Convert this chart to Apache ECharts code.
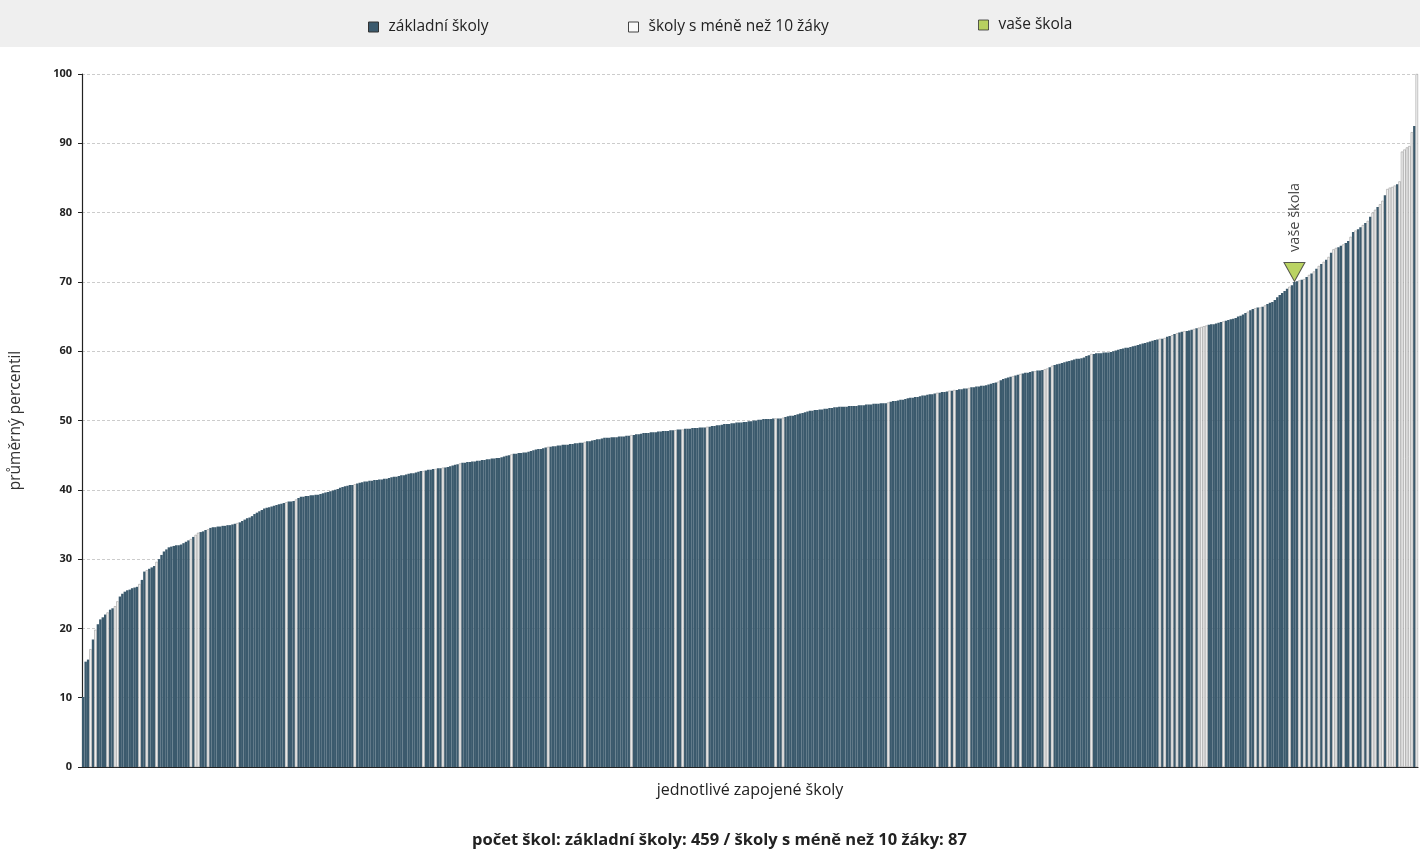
<!DOCTYPE html>
<html>
<head>
<meta charset="utf-8">
<script src="https://cdn.jsdelivr.net/npm/echarts@6/dist/echarts.min.js"></script>
<style>
html,body{margin:0;padding:0;background:#fff;}
#chart{width:1420px;height:852px;}
</style>
</head>
<body>
<div id="chart"></div>
<script>
// average percentile of each school, sorted ascending (546 schools)
const values = [
10.1,15.2,15.5,17.0,18.4,19.8,20.6,21.3,21.6,22.0,
22.3,22.7,22.9,23.2,23.9,24.6,25.0,25.3,25.5,25.6,
25.8,25.9,26.0,26.4,27.0,28.2,28.4,28.6,28.8,29.0,
29.6,30.0,30.6,31.1,31.4,31.7,31.8,31.9,32.0,32.0,
32.1,32.3,32.5,32.7,32.9,33.2,33.5,33.8,33.9,34.0,
34.2,34.3,34.5,34.6,34.6,34.7,34.7,34.8,34.8,34.9,
34.9,35.0,35.1,35.2,35.3,35.5,35.7,35.9,36.0,36.2,
36.5,36.7,36.9,37.1,37.3,37.4,37.5,37.6,37.7,37.8,
37.9,38.0,38.1,38.2,38.3,38.3,38.4,38.6,38.8,39.0,
39.0,39.1,39.1,39.2,39.2,39.3,39.3,39.4,39.5,39.6,
39.7,39.8,39.9,40.0,40.1,40.3,40.4,40.5,40.6,40.7,
40.7,40.8,40.9,41.0,41.1,41.2,41.2,41.3,41.3,41.4,
41.4,41.5,41.5,41.6,41.6,41.7,41.8,41.9,41.9,42.0,
42.1,42.1,42.2,42.3,42.4,42.4,42.5,42.6,42.7,42.7,
42.8,42.9,42.9,43.0,43.0,43.1,43.1,43.2,43.2,43.3,
43.4,43.5,43.6,43.7,43.8,43.9,43.9,44.0,44.0,44.1,
44.1,44.2,44.2,44.3,44.3,44.4,44.4,44.5,44.5,44.6,
44.6,44.7,44.8,44.9,45.0,45.1,45.2,45.2,45.3,45.3,
45.4,45.4,45.5,45.6,45.7,45.8,45.9,45.9,46.0,46.1,
46.2,46.2,46.3,46.3,46.4,46.4,46.5,46.5,46.5,46.6,
46.6,46.7,46.7,46.8,46.8,46.9,47.0,47.0,47.1,47.2,
47.3,47.3,47.4,47.5,47.5,47.5,47.6,47.6,47.6,47.7,
47.7,47.7,47.8,47.8,47.9,47.9,48.0,48.0,48.1,48.2,
48.2,48.2,48.3,48.3,48.3,48.4,48.4,48.5,48.5,48.5,
48.6,48.6,48.6,48.7,48.7,48.7,48.8,48.8,48.8,48.9,
48.9,48.9,49.0,49.0,49.0,49.1,49.1,49.2,49.2,49.3,
49.3,49.4,49.5,49.5,49.5,49.6,49.6,49.7,49.7,49.7,
49.8,49.8,49.9,49.9,50.0,50.0,50.1,50.1,50.2,50.2,
50.2,50.2,50.3,50.3,50.3,50.3,50.4,50.5,50.6,50.7,
50.7,50.8,50.9,51.0,51.1,51.2,51.3,51.4,51.4,51.5,
51.5,51.6,51.6,51.7,51.7,51.8,51.8,51.9,51.9,52.0,
52.0,52.0,52.0,52.1,52.1,52.1,52.1,52.2,52.2,52.2,
52.3,52.3,52.3,52.4,52.4,52.4,52.5,52.5,52.5,52.6,
52.7,52.8,52.8,52.9,53.0,53.0,53.1,53.2,53.3,53.3,
53.4,53.4,53.5,53.6,53.6,53.7,53.8,53.8,53.9,54.0,
54.0,54.1,54.1,54.2,54.3,54.3,54.4,54.4,54.5,54.5,
54.6,54.6,54.7,54.8,54.8,54.9,54.9,55.0,55.0,55.1,
55.2,55.3,55.4,55.5,55.6,55.8,56.0,56.1,56.2,56.3,
56.4,56.5,56.6,56.7,56.8,56.9,56.9,57.0,57.1,57.1,
57.2,57.2,57.3,57.4,57.5,57.7,57.9,58.0,58.1,58.2,
58.3,58.4,58.5,58.6,58.7,58.8,58.9,58.9,59.0,59.1,
59.3,59.4,59.6,59.6,59.7,59.7,59.7,59.8,59.8,59.8,
59.9,60.0,60.1,60.2,60.3,60.4,60.5,60.5,60.6,60.7,
60.8,60.9,61.0,61.1,61.2,61.3,61.4,61.5,61.6,61.7,
61.8,61.8,61.9,62.1,62.2,62.3,62.5,62.6,62.7,62.8,
62.9,62.9,63.0,63.1,63.2,63.3,63.4,63.5,63.6,63.7,
63.8,63.9,63.9,64.0,64.1,64.2,64.3,64.4,64.5,64.6,
64.7,64.8,65.0,65.1,65.3,65.5,65.7,65.9,66.1,66.2,
66.3,66.3,66.4,66.6,66.8,67.0,67.1,67.4,67.8,68.1,
68.4,68.7,69.0,69.3,69.5,70.0,70.1,70.2,70.3,70.4,
70.7,71.0,71.2,71.5,71.9,72.3,72.6,72.9,73.2,73.6,
74.2,74.7,74.9,75.0,75.2,75.4,75.6,75.9,76.5,77.2,
77.4,77.6,77.9,78.2,78.5,78.8,79.4,80.0,80.4,80.8,
81.2,81.7,82.5,83.4,83.6,83.7,83.9,84.1,84.5,88.8,
89.1,89.4,89.6,91.6,92.5,100.0
];

// positions (0-based, in sorted order) of schools with fewer than 10 pupils
const smallSchoolIdx = [
3,5,10,13,14,23,26,30,44,46,47,51,63,83,87,
111,139,144,147,154,175,190,205,
224,242,245,255,283,286,
329,349,354,356,362,374,380,383,389,393,394,396,412,
440,442,445,447,450,454,456,457,458,459,466,476,479,481,483,493,497,499,501,503,
505,507,509,511,512,515,518,520,523,525,527,528,530,531,533,534,535,536,538,539,
540,541,542,543,545
];

// position of "your school"
const yourSchoolIdx = 495;

const seriesNames = ['základní školy', 'školy s méně než 10 žáky', 'vaše škola'];
const yourSchoolLabel = 'vaše škola';
const xAxisName = 'jednotlivé zapojené školy';
const yAxisName = 'průměrný percentil';
const yMin = 0, yMax = 100, yInterval = 10;

const categories = values.map((v, i) => String(i + 1));
const smallSet = new Set(smallSchoolIdx);
const mainData = values.map((v, i) => smallSet.has(i) ? '-' : v);
const smallData = values.map((v, i) => smallSet.has(i) ? v : '-');
const nMain = values.length - smallSchoolIdx.length;
const nSmall = smallSchoolIdx.length;

const DARK = '#3b5a6d';
const LIGHT = '#f2f2f2';
const GREEN = '#a9c83c';
const FONT = '"Open Sans", "Noto Sans", sans-serif';

const chart = echarts.init(document.getElementById('chart'), null, {renderer: 'canvas'});
const legendText = {fontFamily: FONT, fontSize: 15.5, color: '#222', padding: [0, 0, 0, 5]};
chart.setOption({
  animation: false,
  backgroundColor: '#fff',
  graphic: [
    {type: 'rect', left: 0, top: 0, z: -10, silent: true,
     shape: {width: 1420, height: 47}, style: {fill: '#efefef'}},
    {type: 'text', left: 472, top: 832, silent: true,
     style: {text: 'počet škol: ' + seriesNames[0] + ': ' + nMain + ' / ' + seriesNames[1] + ': ' + nSmall,
             font: 'bold 16.5px ' + FONT, fill: '#222'}}
  ],
  legend: [
    {data: [{name: seriesNames[0], itemStyle: {color: DARK, borderColor: '#333', borderWidth: 1}}],
     left: 368, top: 19, padding: 0, icon: 'rect', itemWidth: 10, itemHeight: 10, itemGap: 0, textStyle: legendText},
    {data: [{name: seriesNames[1], itemStyle: {color: '#fafafa', borderColor: '#444', borderWidth: 1}}],
     left: 628, top: 19, padding: 0, icon: 'rect', itemWidth: 10, itemHeight: 10, itemGap: 0, textStyle: legendText},
    {data: [{name: seriesNames[2], itemStyle: {color: GREEN, borderColor: '#333', borderWidth: 1}}],
     left: 978, top: 17, padding: 0, icon: 'rect', itemWidth: 10, itemHeight: 10, itemGap: 0, textStyle: legendText}
  ],
  grid: {left: 78, right: 2, top: 74, bottom: 85, containLabel: false},
  xAxis: {
    type: 'category', data: categories,
    boundaryGap: true,
    name: xAxisName, nameLocation: 'middle', nameGap: 15,
    nameTextStyle: {fontFamily: FONT, fontSize: 16, color: '#222'},
    axisLine: {show: true, lineStyle: {color: '#222', width: 1.2}},
    axisTick: {show: false}, axisLabel: {show: false}, splitLine: {show: false}
  },
  yAxis: {
    type: 'value', min: yMin, max: yMax, interval: yInterval,
    name: yAxisName, nameLocation: 'middle', nameGap: 58,
    nameTextStyle: {fontFamily: FONT, fontSize: 15.5, color: '#333'},
    axisLine: {show: true, lineStyle: {color: '#222', width: 1.2}},
    axisTick: {show: true, length: 4, lineStyle: {color: '#222'}},
    axisLabel: {fontFamily: FONT, fontSize: 11, fontWeight: 'bold', color: '#222', margin: 10},
    splitLine: {show: true, lineStyle: {color: '#cccccc', width: 1, type: [3, 2]}}
  },
  series: [
    {name: seriesNames[0], type: 'bar', data: mainData, barCategoryGap: '0%', barGap: '-100%',
     itemStyle: {color: DARK, borderColor: DARK, borderWidth: 0}, z: 2},
    {name: seriesNames[1], type: 'bar', data: smallData, barCategoryGap: '0%', barGap: '-100%',
     itemStyle: {color: LIGHT, borderColor: '#8f8f8f', borderWidth: 0.5}, z: 3},
    {name: seriesNames[2], type: 'scatter',
     data: [[yourSchoolIdx, values[yourSchoolIdx]]],
     symbol: 'triangle', symbolRotate: 180, symbolSize: [21, 19], symbolOffset: [0, -10],
     itemStyle: {color: GREEN, borderColor: '#333', borderWidth: 1}, z: 5,
     label: {show: true, formatter: yourSchoolLabel, position: 'top', distance: 10,
             rotate: 90, align: 'left', verticalAlign: 'middle',
             fontFamily: FONT, fontSize: 14.5, color: '#111'}}
  ]
});
</script>
</body>
</html>
